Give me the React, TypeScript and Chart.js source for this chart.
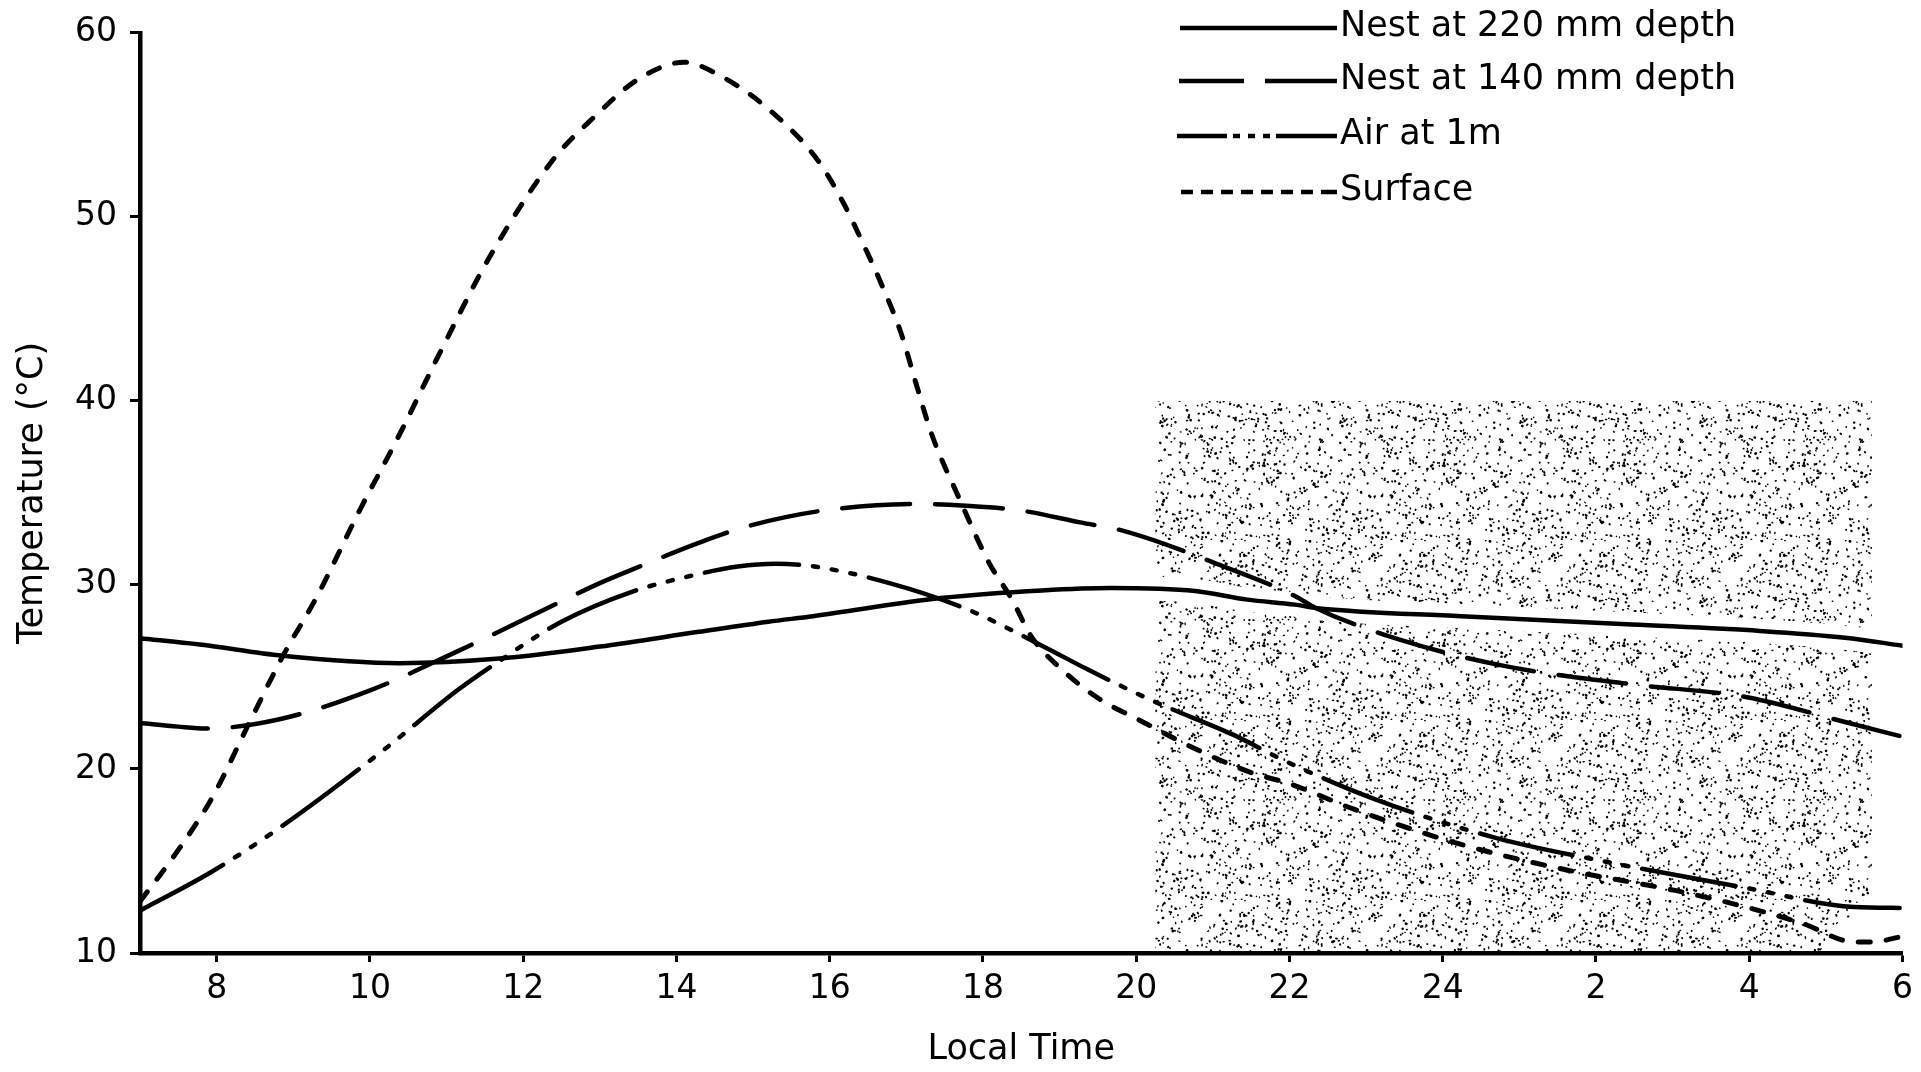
import React, { useEffect, useRef } from 'react';
import { Chart, registerables } from 'chart.js';

Chart.register(...registerables);

const FONT = '"DejaVu Sans", "Liberation Sans", sans-serif';

// ---- data ----
const xTickValues = [8, 10, 12, 14, 16, 18, 20, 22, 24, 26, 28, 30];
const xTickLabels = ['8', '10', '12', '14', '16', '18', '20', '22', '24', '2', '4', '6'];
const yTickValues = [10, 20, 30, 40, 50, 60];

const seriesLabels = ['Nest at 220 mm depth', 'Nest at 140 mm depth', 'Air at 1m', 'Surface'];

const nest220Hours = [7.0, 7.78, 8.86, 10.39, 11.69, 13.0, 14.29, 15.2, 15.78, 17.48, 18.77, 19.67, 20.77, 21.45, 22.07, 22.34, 24.24, 26.47, 28.14, 29.25, 30.0];
const nest220Temps = [27.1, 26.76, 26.15, 25.75, 26.0, 26.65, 27.45, 28.0, 28.3, 29.3, 29.7, 29.83, 29.67, 29.2, 28.93, 28.75, 28.3, 27.85, 27.5, 27.13, 26.7];

const nest140Hours = [7.0, 7.5, 7.87, 8.82, 10.02, 11.12, 12.3, 13.0, 13.46, 14.3, 14.94, 15.93, 17.13, 17.78, 18.48, 19.27, 19.87, 21.02, 22.07, 22.34, 23.46, 24.8, 26.47, 27.97, 29.25, 30.0];
const nest140Temps = [22.5, 22.3, 22.2, 22.7, 24.3, 26.35, 28.7, 30.1, 30.9, 32.3, 33.2, 34.05, 34.4, 34.3, 34.05, 33.4, 32.9, 31.2, 29.4, 28.75, 27.0, 25.6, 24.6, 23.9, 22.55, 21.75];

const airHours = [7.0, 7.93, 8.89, 10.2, 11.15, 11.7, 12.5, 13.4, 14.3, 14.8, 15.3, 15.8, 16.78, 17.78, 18.77, 19.37, 20.27, 21.27, 21.96, 23.12, 24.68, 26.08, 27.92, 29.37, 30.0];
const airTemps = [12.3, 14.4, 17.0, 21.1, 24.3, 25.9, 28.0, 29.6, 30.6, 31.0, 31.15, 31.0, 30.1, 28.7, 26.7, 25.4, 23.6, 21.85, 20.4, 18.35, 16.27, 15.0, 13.57, 12.5, 12.45];

const surfaceHours = [7.0, 7.5, 7.95, 8.39, 8.86, 9.3, 9.86, 10.39, 10.9, 11.56, 12.39, 12.92, 13.51, 14.1, 14.6, 15.16, 15.84, 16.18, 16.43, 16.68, 16.93, 17.13, 17.33, 17.68, 18.08, 18.38, 18.63, 19.03, 19.52, 20.02, 20.77, 21.5, 22.0, 22.85, 24.24, 25.63, 27.03, 27.86, 28.7, 29.37, 29.6, 30.0];
const surfaceTemps = [12.8, 15.6, 18.5, 22.2, 26.1, 29.3, 34.0, 38.2, 42.5, 47.8, 53.1, 55.4, 57.5, 58.4, 57.6, 56.0, 53.1, 50.75, 48.6, 46.3, 43.7, 40.9, 38.2, 34.8, 31.2, 29.2, 27.2, 25.4, 23.8, 22.7, 21.1, 19.8, 19.2, 17.8, 15.9, 14.5, 13.4, 12.6, 11.6, 10.6, 10.6, 10.9];

// night (stippled) region outline
const nightShadeHours = [20.25, 20.25, 29.6, 29.6, 28.9];
const nightShadeTemps = [10, 40, 40, 13.4, 10];

const toPoints = (hs: number[], ts: number[]) => hs.map((h, i) => ({ x: h, y: ts[i] }));

function makeStipple(): CanvasPattern | string {
  const size = 180;
  const c = document.createElement('canvas');
  c.width = size;
  c.height = size;
  const g = c.getContext('2d');
  if (!g) return 'rgba(0,0,0,0.14)';
  let seed = 987654321;
  const next = () => {
    seed = (Math.imul(seed, 1103515245) + 12345) >>> 0;
    return (seed >>> 8) / 16777216;
  };
  g.fillStyle = '#000';
  for (let i = 0; i < 760; i++) {
    const px = next() * size;
    const py = next() * size;
    const rx = 0.7 + next() * 0.9;
    const ry = 0.7 + next() * 0.7;
    g.beginPath();
    g.ellipse(px, py, rx, ry, next() * Math.PI, 0, Math.PI * 2);
    g.fill();
  }
  const p = g.createPattern(c, 'repeat');
  return p || 'rgba(0,0,0,0.14)';
}

const stipplePlugin = {
  id: 'stipple',
  beforeDatasetsDraw(chart: any) {
    const { ctx, chartArea, scales } = chart;
    const xs = scales.x;
    const ys = scales.y;
    ctx.save();
    ctx.beginPath();
    ctx.rect(chartArea.left, chartArea.top, chartArea.right - chartArea.left, chartArea.bottom - chartArea.top);
    ctx.clip();
    ctx.beginPath();
    nightShadeHours.forEach((h, i) => {
      const px = xs.getPixelForValue(h);
      const py = ys.getPixelForValue(nightShadeTemps[i]);
      if (i === 0) ctx.moveTo(px, py);
      else ctx.lineTo(px, py);
    });
    ctx.closePath();
    ctx.fillStyle = makeStipple();
    ctx.fill();
    ctx.restore();
  },
};

const legendPlugin = {
  id: 'customLegend',
  afterDraw(chart: any) {
    const { ctx } = chart;
    const rows = [
      { y: 28, segs: [[1180, 1337]] },
      { y: 81, segs: [[1179, 1244], [1265, 1337]] },
      { y: 136, segs: [[1177, 1227], [1233, 1240], [1248, 1255], [1263, 1270], [1276, 1337]] },
      { y: 192, segs: [[1181, 1193], [1201, 1213], [1221, 1233], [1241, 1253], [1261, 1273], [1281, 1293], [1301, 1313], [1321, 1337]] },
    ];
    ctx.save();
    ctx.strokeStyle = '#000';
    ctx.lineWidth = 4.5;
    ctx.lineCap = 'butt';
    ctx.fillStyle = '#000';
    ctx.font = `35px ${FONT}`;
    ctx.textBaseline = 'middle';
    ctx.textAlign = 'left';
    rows.forEach((row, i) => {
      row.segs.forEach(([a, b]) => {
        ctx.beginPath();
        ctx.moveTo(a, row.y);
        ctx.lineTo(b, row.y);
        ctx.stroke();
      });
      ctx.fillText(seriesLabels[i], 1340, row.y - 1);
    });
    ctx.restore();
  },
};

export default function App() {
  const canvasRef = useRef<HTMLCanvasElement | null>(null);

  useEffect(() => {
    if (!canvasRef.current) return;
    const common = {
      borderColor: '#000',
      borderWidth: 4.5,
      pointRadius: 0,
      pointHoverRadius: 0,
      fill: false,
      cubicInterpolationMode: 'monotone' as const,
      borderCapStyle: 'round' as const,
      borderJoinStyle: 'round' as const,
    };
    const tickFont = { family: FONT, size: 33 };
    const titleFont = { family: FONT, size: 35 };
    const chart = new Chart(canvasRef.current, {
      type: 'line',
      data: {
        datasets: [
          { ...common, label: seriesLabels[0], data: toPoints(nest220Hours, nest220Temps), borderDash: [], order: 0 },
          { ...common, label: seriesLabels[1], data: toPoints(nest140Hours, nest140Temps), borderDash: [68, 25], order: 0 },
          { ...common, label: seriesLabels[2], data: toPoints(airHours, airTemps), borderDash: [95, 14, 5, 14, 5, 14, 5, 14], order: 0 },
          { ...common, label: seriesLabels[3], data: toPoints(surfaceHours, surfaceTemps), borderDash: [12, 16], borderWidth: 5, order: 0 },
          { ...common, label: 'halo', data: toPoints(nest220Hours, nest220Temps), borderColor: '#fff', borderWidth: 24, order: 5 },
        ],
      },
      options: {
        animation: false,
        responsive: true,
        maintainAspectRatio: false,
        layout: { padding: { left: 0, right: 12, top: 25, bottom: 0 } },
        plugins: {
          legend: { display: false },
          tooltip: { enabled: false },
        },
        scales: {
          x: {
            type: 'linear',
            min: 7,
            max: 30,
            afterBuildTicks: (s: any) => {
              s.ticks = xTickValues.map((v) => ({ value: v }));
            },
            afterFit: (s: any) => {
              s.height = 119;
            },
            ticks: {
              autoSkip: false,
              maxRotation: 0,
              color: '#000',
              font: tickFont,
              padding: 8,
              callback: (v: any) => {
                const i = xTickValues.indexOf(Number(v));
                return i >= 0 ? xTickLabels[i] : '';
              },
            },
            grid: { drawOnChartArea: false, drawTicks: true, tickLength: 9, tickWidth: 3, tickColor: '#000' },
            border: { display: true, color: '#000', width: 4.5, z: 1 },
            title: { display: true, text: 'Local Time', color: '#000', font: titleFont, padding: { top: 0, bottom: 1 } },
          },
          y: {
            type: 'linear',
            min: 10,
            max: 60,
            afterBuildTicks: (s: any) => {
              s.ticks = yTickValues.map((v) => ({ value: v }));
            },
            afterFit: (s: any) => {
              s.width = 140;
            },
            ticks: { color: '#000', font: tickFont, padding: 13 },
            grid: { drawOnChartArea: false, drawTicks: true, tickLength: 10, tickWidth: 3, tickColor: '#000' },
            border: { display: true, color: '#000', width: 4.5, z: 1 },
            title: { display: true, text: 'Temperature (°C)', color: '#000', font: titleFont, padding: { top: 12, bottom: 0 } },
          },
        },
      },
      plugins: [stipplePlugin, legendPlugin],
    } as any);
    return () => chart.destroy();
  }, []);

  return (
    <div style={{ position: 'absolute', left: 0, top: 0, width: 1921, height: 1072, background: '#fff' }}>
      <canvas ref={canvasRef} style={{ display: 'block' }} />
    </div>
  );
}
